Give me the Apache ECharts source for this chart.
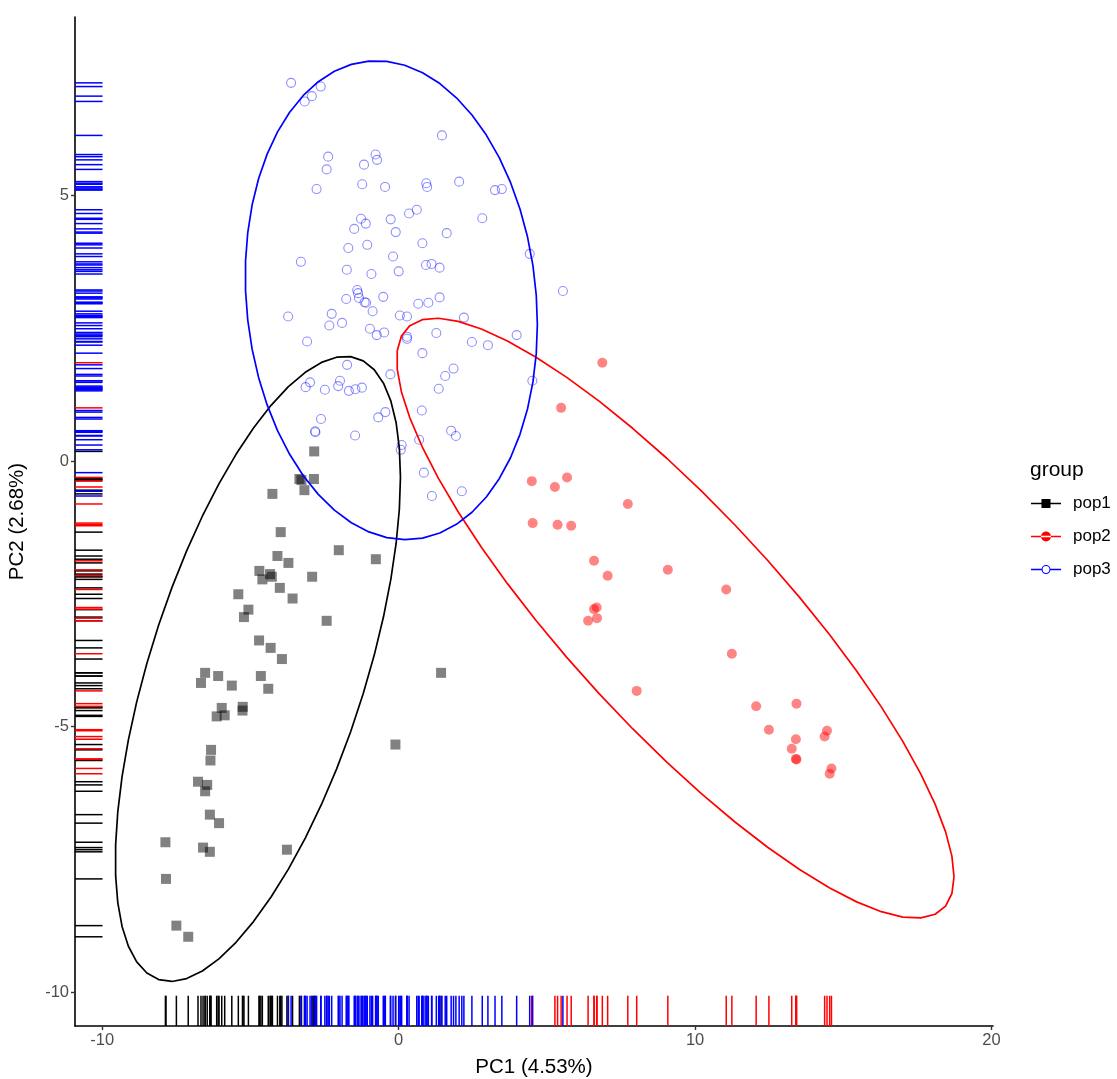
<!DOCTYPE html>
<html>
<head>
<meta charset="utf-8">
<script src="https://cdn.jsdelivr.net/npm/echarts@6/dist/echarts.min.js"></script>
<style>
html,body{margin:0;padding:0;background:#fff;}
#chart{width:1117px;height:1079px;}
</style>
</head>
<body>
<div id="chart"></div>
<script>
// ---- data ----
const groups = ['pop1', 'pop2', 'pop3'];
const xTicks = [-10, 0, 10, 20];
const yTicks = [-10, -5, 0, 5];
const xTitle = 'PC1 (4.53%)';
const yTitle = 'PC2 (2.68%)';
const legendTitle = 'group';

const pop1X = [-3.35,-3.28,-2.86,-3.18,-4.26,-2.85,-3.98,-2.02,-0.77,-4.09,-3.72,-4.70,-4.34,-4.28,-4.60,-2.92,-4.01,-5.41,-3.58,-5.07,-5.22,-2.43,-4.71,-4.32,-3.94,-6.53,-6.09,-6.67,-4.65,-4.40,-5.63,-5.97,-5.87,-6.14,-5.26,-5.27,-0.11,-6.33,-6.35,-6.77,-6.46,-6.53,-6.37,-6.06,-7.87,-6.60,-6.37,-3.77,-7.85,-7.50,-7.10,1.43];
const pop1Y = [-0.34,-0.36,-0.34,-0.55,-0.62,0.18,-1.34,-1.68,-1.85,-1.79,-1.92,-2.07,-2.13,-2.18,-2.23,-2.18,-2.39,-2.51,-2.59,-2.80,-2.94,-3.01,-3.38,-3.52,-3.73,-3.99,-4.05,-4.18,-4.05,-4.29,-4.23,-4.65,-4.79,-4.81,-4.63,-4.70,-5.34,-5.44,-5.64,-6.04,-6.10,-6.22,-6.66,-6.82,-7.18,-7.28,-7.36,-7.32,-7.87,-8.75,-8.96,-3.99];

const pop2X = [6.87,5.48,4.49,5.68,5.27,7.73,4.52,5.36,5.82,6.59,7.05,9.08,11.05,6.68,6.59,6.39,6.69,11.24,8.03,12.06,13.42,12.49,13.40,13.26,13.40,13.42,14.45,14.37,14.60,14.54];
const pop2Y = [1.85,1.00,-0.38,-0.31,-0.49,-0.81,-1.17,-1.20,-1.22,-1.88,-2.16,-2.05,-2.42,-2.76,-2.79,-3.01,-2.96,-3.63,-4.33,-4.62,-4.57,-5.06,-5.24,-5.42,-5.61,-5.62,-5.08,-5.19,-5.79,-5.89];

const pop3X = [-3.63,-2.63,-2.93,-3.17,1.46,-2.38,-0.78,-0.73,-2.43,-1.17,-2.77,-1.23,-0.46,0.93,0.96,2.04,3.25,3.48,0.61,0.35,-1.27,-0.27,-1.11,-1.50,-0.10,2.82,1.62,0.80,-1.06,-1.70,-0.19,4.42,-3.30,0.92,1.11,1.38,-1.75,-0.92,0.00,5.54,-1.40,-1.37,-1.34,-1.77,-0.52,-1.15,-1.10,1.38,0.66,1.00,-0.88,-3.73,-2.26,-2.34,-1.91,0.04,0.28,2.20,-0.97,-0.74,-0.49,1.27,0.28,0.28,-3.09,2.47,3.01,3.98,0.80,-1.74,-0.28,1.85,1.57,1.35,-2.99,-3.14,-2.49,-1.98,-2.04,-1.68,-1.46,-1.24,-0.45,-0.69,0.78,-2.62,-2.82,-2.81,-1.47,0.10,0.07,0.69,1.77,1.93,0.85,1.12,2.13,4.51];
const pop3Y = [7.12,7.05,6.87,6.77,6.13,5.73,5.77,5.67,5.49,5.58,5.12,5.21,5.16,5.23,5.16,5.26,5.10,5.12,4.73,4.66,4.56,4.55,4.47,4.37,4.31,4.57,4.29,4.10,4.07,4.01,3.85,3.90,3.75,3.69,3.71,3.64,3.60,3.52,3.57,3.20,3.22,3.16,3.07,3.05,3.09,2.99,2.98,3.08,2.96,2.98,2.82,2.72,2.77,2.55,2.60,2.74,2.72,2.70,2.49,2.37,2.42,2.41,2.34,2.30,2.25,2.24,2.18,2.37,2.03,1.81,1.63,1.74,1.60,1.36,1.48,1.39,1.34,1.51,1.41,1.32,1.35,1.38,0.92,0.82,0.95,0.79,0.56,0.54,0.48,0.30,0.21,0.40,0.57,0.47,-0.22,-0.66,-0.57,1.51];

const groupX = [pop1X, pop2X, pop3X];
const groupY = [pop1Y, pop2Y, pop3Y];
const groupColor = ['#000000', '#ff0000', '#0000ff'];

// ---- stat_ellipse (type "norm", level 0.95): sample covariance + F quantile ----
function covNorm(xs, ys) {
  const n = xs.length;
  const mx = xs.reduce((a, b) => a + b, 0) / n;
  const my = ys.reduce((a, b) => a + b, 0) / n;
  let c11 = 0, c12 = 0, c22 = 0;
  for (let i = 0; i < n; i++) {
    const dx = xs[i] - mx, dy = ys[i] - my;
    c11 += dx * dx; c12 += dx * dy; c22 += dy * dy;
  }
  return { center: [mx, my], cov: [c11 / (n - 1), c12 / (n - 1), c22 / (n - 1)] };
}
function ellipsePath(xs, ys, level) {
  const n = xs.length;
  const r = covNorm(xs, ys);
  const d2 = n - 1;
  const qf = (d2 / 2) * (Math.pow(1 - level, -2 / d2) - 1); // F(2, d2) quantile
  const radius = Math.sqrt(2 * qf);
  const a = Math.sqrt(r.cov[0]);
  const b = r.cov[1] / a;
  const c = Math.sqrt(r.cov[2] - b * b);
  const seg = 51, out = [];
  for (let k = 0; k <= seg; k++) {
    const t = k * 2 * Math.PI / seg;
    const ct = Math.cos(t), st = Math.sin(t);
    out.push([r.center[0] + radius * ct * a, r.center[1] + radius * (ct * b + st * c)]);
  }
  return out;
}

const xMin = -10.92, xMax = 20.05, yMin = -10.64, yMax = 8.36;

const series = [];
const symbols = ['rect', 'circle', 'circle'];
groups.forEach((g, gi) => {
  const pts = groupX[gi].map((x, i) => [x, groupY[gi][i]]);
  const isOpen = gi === 2;
  series.push({
    name: g, type: 'scatter', data: pts, symbol: symbols[gi],
    symbolSize: gi === 0 ? 10 : (gi === 1 ? 10 : 9),
    itemStyle: isOpen
      ? { color: 'rgba(0,0,0,0)', borderColor: 'rgba(0,0,255,0.55)', borderWidth: 1.1 }
      : { color: gi === 0 ? 'rgba(0,0,0,0.62)' : 'rgba(255,0,0,0.6)' },
    emphasis: { disabled: true }, z: 2
  });
});
groups.forEach((g, gi) => {
  series.push({
    name: g, type: 'line', data: ellipsePath(groupX[gi], groupY[gi], 0.95),
    showSymbol: false, smooth: false, silent: true,
    lineStyle: { color: groupColor[gi], width: 1.7 },
    itemStyle: { color: groupColor[gi] }, z: 3
  });
});
groups.forEach((g, gi) => {
  const col = groupColor[gi];
  series.push({
    name: g, type: 'custom', silent: true, clip: false, z: 4,
    data: groupX[gi].map((x, i) => [x, groupY[gi][i]]),
    renderItem: function (params, api) {
      const cs = params.coordSys;
      const pt = api.coord([api.value(0), api.value(1)]);
      const bottom = cs.y + cs.height;
      return {
        type: 'group', children: [
          { type: 'line', shape: { x1: pt[0], y1: bottom, x2: pt[0], y2: bottom - cs.height * 0.03 }, style: { stroke: col, lineWidth: 1.5 } },
          { type: 'line', shape: { x1: cs.x, y1: pt[1], x2: cs.x + cs.width * 0.03, y2: pt[1] }, style: { stroke: col, lineWidth: 1.5 } }
        ]
      };
    }
  });
});

const iconSquare = 'path://M0,4.3L30,4.3L30,5.7L0,5.7Z M10.5,0.5L19.5,0.5L19.5,9.5L10.5,9.5Z';
const iconDot = 'path://M0,4.3L30,4.3L30,5.7L0,5.7Z M10,5A5,5 0 1,0 20,5A5,5 0 1,0 10,5Z';
const iconRing = 'path://M0,4.3L10.6,4.3L10.6,5.7L0,5.7Z M19.4,4.3L30,4.3L30,5.7L19.4,5.7Z M10.5,5A4.5,4.5 0 1,0 19.5,5A4.5,4.5 0 1,0 10.5,5Z M11.6,5A3.4,3.4 0 1,1 18.4,5A3.4,3.4 0 1,1 11.6,5Z';
const icons = [iconSquare, iconDot, iconRing];

const font = 'Liberation Sans, Arial, sans-serif';
const option = {
  animation: false,
  backgroundColor: '#ffffff',
  title: {
    text: legendTitle, left: 1025, top: 455,
    textStyle: { fontFamily: font, fontSize: 21, fontWeight: 'normal', color: '#000' }
  },
  legend: {
    orient: 'vertical', left: 1026, top: 489,
    itemWidth: 30, itemHeight: 10, itemGap: 14,
    selectedMode: false,
    textStyle: { fontFamily: font, fontSize: 17, color: '#000', lineHeight: 19, padding: [0, 0, 0, 7] },
    data: groups.map((g, gi) => ({ name: g, icon: icons[gi], itemStyle: { color: groupColor[gi], opacity: 1, borderWidth: 0 } }))
  },
  grid: { left: 75, right: 124, top: 17, bottom: 53, containLabel: false, outerBoundsMode: 'none' },
  xAxis: {
    type: 'value', min: xMin, max: xMax,
    name: xTitle, nameLocation: 'middle', nameGap: 31,
    nameTextStyle: { fontFamily: font, fontSize: 20.5, color: '#000' },
    axisLine: { show: true, onZero: false, lineStyle: { color: '#000', width: 1.6 } },
    axisTick: { show: true, customValues: xTicks, length: 4, lineStyle: { color: '#333', width: 1.4 } },
    axisLabel: { customValues: xTicks, margin: 6, fontFamily: font, fontSize: 16.5, color: '#4d4d4d' },
    splitLine: { show: false }
  },
  yAxis: {
    type: 'value', min: yMin, max: yMax,
    name: yTitle, nameLocation: 'middle', nameGap: 47,
    nameTextStyle: { fontFamily: font, fontSize: 20.5, color: '#000' },
    axisLine: { show: true, onZero: false, lineStyle: { color: '#000', width: 1.6 } },
    axisTick: { show: true, customValues: yTicks, length: 4, lineStyle: { color: '#333', width: 1.4 } },
    axisLabel: { customValues: yTicks, margin: 6, fontFamily: font, fontSize: 16.5, color: '#4d4d4d' },
    splitLine: { show: false }
  },
  series: series
};
const chart = echarts.init(document.getElementById('chart'), null, { renderer: 'canvas' });
chart.setOption(option);
</script>
</body>
</html>
